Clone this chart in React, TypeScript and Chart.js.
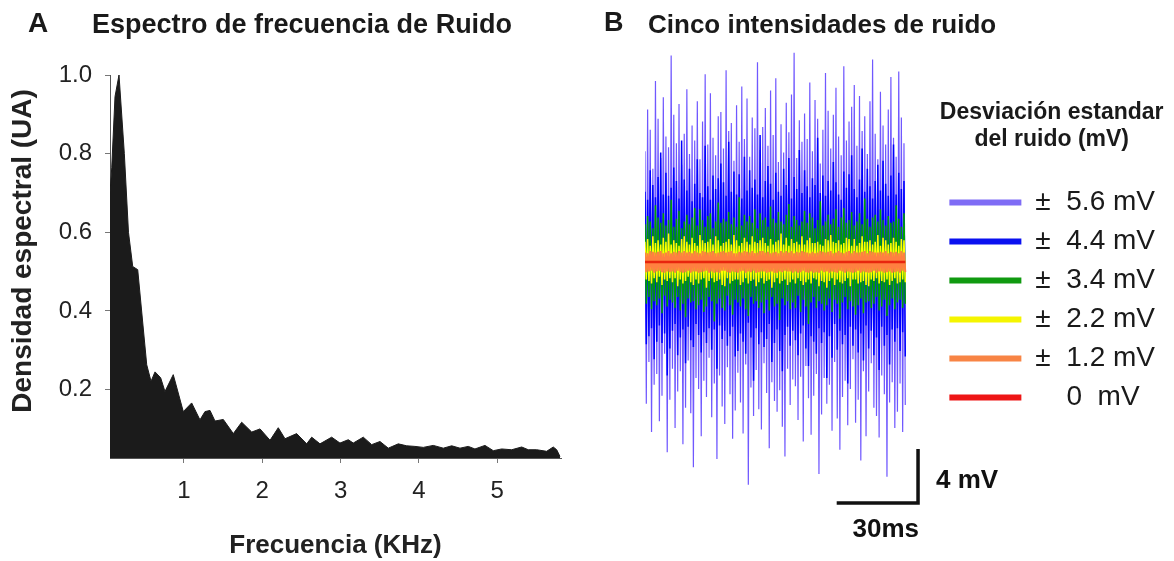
import React, { useEffect, useRef } from "react";
import { Chart, registerables } from "chart.js";

Chart.register(...registerables);

const FONT = "'Liberation Sans', Arial, Helvetica, sans-serif";

// ---------- Panel A: noise frequency spectrum ----------
const spectrumFreqKHz = [
  0.055, 0.077, 0.119, 0.17, 0.238, 0.291, 0.345, 0.409, 0.524, 0.579,
  0.63, 0.702, 0.757, 0.863, 0.991, 1.098, 1.204, 1.268, 1.332, 1.396,
  1.502, 1.63, 1.737, 1.865, 1.971, 2.099, 2.204, 2.29, 2.439, 2.567,
  2.631, 2.737, 2.886, 2.992, 3.098, 3.162, 3.29, 3.397, 3.503, 3.609,
  3.737, 3.844, 3.95, 4.056, 4.184, 4.312, 4.419, 4.525, 4.631, 4.716,
  4.844, 4.95, 5.057, 5.185, 5.313, 5.397, 5.504, 5.632, 5.716, 5.76,
  5.802,
];
const spectrumDensity = [
  0.70, 0.764, 0.945, 1.0, 0.80, 0.60, 0.513, 0.505, 0.263, 0.221,
  0.245, 0.23, 0.195, 0.238, 0.144, 0.166, 0.123, 0.144, 0.147, 0.12,
  0.124, 0.088, 0.117, 0.092, 0.10, 0.071, 0.103, 0.075, 0.088, 0.062,
  0.079, 0.062, 0.079, 0.064, 0.0725, 0.064, 0.079, 0.06, 0.068, 0.051,
  0.062, 0.057, 0.0555, 0.053, 0.058, 0.051, 0.057, 0.051, 0.0555, 0.049,
  0.058, 0.0446, 0.049, 0.047, 0.054, 0.047, 0.047, 0.043, 0.054, 0.047,
  0.03,
];
const spectrumXTicks = [1, 2, 3, 4, 5];
const spectrumYTicks = [0.2, 0.4, 0.6, 0.8, 1.0];

// ---------- Panel B: five noise intensities (mV) ----------
const SAMPLE_MS = 0.4824;
const noise56 = [
  8.2, -10.5, 11.3, -7.4, 9.8, -12.6, 6.9, -9.1, 13.4, -8.3,
  10.6, -11.8, 7.7, -9.9, 12.2, -6.8, 9.3, -14.1, 8.5, -10.2,
  15.3, -7.9, 10.9, -12.3, 8.8, -9.6, 11.7, -8.1, 7.2, -13.5,
  9.5, -10.8, 12.8, -7.3, 8.0, -11.2, 10.1, -15.2, 9.0, -8.6,
  11.9, -9.4, 7.6, -12.9, 10.4, -8.8, 13.9, -10.0, 8.7, -7.1,
  12.5, -11.5, 9.2, -9.0, 7.9, -14.6, 10.8, -8.4, 11.1, -10.7,
  8.4, -12.0, 14.2, -7.8, 9.7, -9.8, 10.3, -13.1, 7.5, -11.0,
  11.6, -8.2, 8.9, -10.4, 13.0, -12.7, 9.1, -7.6, 12.1, -16.5,
  7.8, -9.3, 10.7, -11.4, 9.9, -8.0, 14.8, -10.9, 8.3, -12.4,
  10.0, -7.5, 11.4, -9.7, 8.6, -13.8, 12.7, -8.9, 9.4, -10.3,
  13.6, -11.1, 7.4, -9.5, 10.2, -12.2, 8.1, -14.4, 11.8, -7.9,
  9.6, -10.6, 12.4, -8.7, 15.5, -9.2, 7.7, -11.7, 10.5, -8.5,
  8.9, -13.3, 11.0, -7.7, 9.1, -10.1, 13.3, -12.8, 8.2, -9.9,
  12.0, -8.3, 10.6, -15.7, 7.3, -11.3, 9.8, -8.6, 14.0, -10.5,
  11.2, -9.1, 8.4, -12.5, 10.9, -7.4, 12.9, -11.6, 9.3, -13.9,
  7.9, -10.0, 14.5, -8.8, 9.0, -12.1, 10.4, -9.4, 11.5, -7.2,
  13.1, -11.9, 8.6, -10.2, 12.3, -14.7, 9.7, -8.1, 10.8, -12.9,
  8.0, -9.6, 11.9, -7.5, 15.0, -10.8, 9.5, -11.4, 7.6, -13.0,
  12.6, -8.4, 10.1, -9.8, 8.7, -15.9, 11.3, -10.4, 13.7, -8.9,
  9.2, -12.3, 7.8, -11.1, 14.1, -9.0, 10.7, -12.6, 8.8, -10.6,
];
const noise44 = [
  5.2, -6.1, 4.6, -5.5, 6.8, -4.9, 5.7, -7.2, 4.8, -5.9,
  6.3, -4.7, 8.1, -6.0, 5.0, -5.3, 6.6, -8.4, 4.9, -6.4,
  5.5, -5.1, 7.0, -4.6, 6.0, -6.9, 4.7, -5.6, 9.0, -5.0,
  6.1, -7.5, 5.3, -4.8, 6.9, -5.8, 4.5, -6.3, 5.8, -4.6,
  7.6, -5.4, 5.1, -6.7, 4.8, -5.2, 8.6, -6.0, 5.6, -4.9,
  4.6, -6.5, 6.4, -5.0, 5.4, -7.9, 6.2, -4.7, 7.3, -5.7,
  5.9, -5.1, 4.9, -6.2, 8.9, -5.5, 5.2, -4.8, 6.7, -7.0,
  5.0, -6.6, 6.5, -5.3, 4.7, -5.9, 7.8, -6.8, 5.3, -4.5,
  6.8, -5.6, 5.5, -8.8, 6.1, -4.9, 5.0, -6.1, 9.4, -5.2,
  4.8, -6.3, 6.0, -5.7, 7.1, -4.6, 5.8, -7.4, 4.6, -6.0,
  6.6, -5.0, 5.2, -6.6, 4.9, -8.1, 6.9, -5.4, 5.7, -4.8,
  7.7, -6.2, 4.7, -5.1, 6.3, -5.8, 5.4, -6.9, 8.3, -5.3,
  5.1, -4.7, 6.8, -6.4, 5.6, -7.7, 4.8, -5.5, 6.2, -5.9,
  5.7, -6.8, 9.2, -4.9, 5.1, -6.0, 6.4, -5.2, 4.9, -8.6,
  6.0, -5.5, 5.3, -7.1, 7.4, -4.6, 5.9, -6.5, 5.0, -5.1,
  4.6, -6.1, 6.7, -5.4, 5.5, -9.0, 6.5, -4.8, 7.9, -6.2,
  5.4, -5.0, 4.8, -6.7, 6.1, -5.3, 8.4, -7.3, 5.2, -4.7,
  6.9, -6.4, 5.6, -5.1, 4.7, -6.9, 6.0, -5.6, 7.2, -8.0,
  5.3, -4.8, 7.5, -6.2, 5.8, -5.4, 4.9, -7.6, 6.4, -5.0,
  8.7, -5.9, 5.0, -4.9, 6.6, -6.6, 5.4, -5.2, 6.0, -7.0,
];
const noise34 = [
  2.8, -3.1, 3.4, -2.6, 3.0, -3.5, 2.5, -2.9, 4.2, -3.2,
  3.3, -2.7, 2.9, -3.8, 3.6, -2.5, 2.7, -3.3, 3.1, -2.8,
  4.6, -3.0, 2.6, -3.4, 3.2, -2.6, 3.8, -3.6, 2.5, -3.1,
  3.0, -4.1, 3.5, -2.7, 2.8, -3.0, 3.3, -2.9, 4.0, -3.5,
  2.7, -3.2, 3.9, -2.8, 3.1, -3.7, 2.6, -3.3, 3.4, -2.6,
  3.6, -2.9, 2.5, -4.4, 3.0, -3.1, 4.4, -2.7, 2.9, -3.4,
  3.2, -3.6, 3.0, -2.5, 3.7, -3.2, 2.8, -3.9, 3.3, -2.8,
  2.6, -3.0, 4.8, -3.3, 2.7, -2.7, 3.5, -3.5, 3.0, -4.0,
  3.4, -2.6, 2.9, -3.1, 3.9, -2.9, 2.5, -3.4, 3.6, -3.0,
  3.1, -3.8, 3.3, -2.8, 2.6, -3.6, 4.1, -2.6, 3.2, -3.3,
  2.9, -3.1, 3.7, -4.3, 3.0, -2.7, 2.8, -3.2, 3.5, -2.9,
  4.3, -3.5, 2.6, -3.0, 3.4, -3.4, 3.1, -2.5, 2.7, -3.7,
  3.0, -2.8, 3.8, -3.3, 2.9, -4.6, 3.6, -3.0, 3.3, -2.6,
  2.5, -3.4, 3.1, -2.9, 4.5, -3.1, 2.7, -3.6, 3.0, -3.2,
  3.5, -2.7, 2.8, -3.7, 3.2, -2.8, 3.9, -3.1, 2.6, -4.2,
  3.3, -3.0, 4.0, -2.6, 2.9, -3.5, 3.1, -2.9, 3.7, -3.3,
  2.7, -3.9, 3.0, -3.2, 3.6, -2.7, 2.8, -3.8, 4.7, -3.0,
  3.2, -2.9, 2.6, -3.4, 3.3, -3.1, 3.5, -2.6, 3.0, -3.6,
  3.9, -3.3, 3.1, -2.8, 2.7, -4.0, 3.4, -3.2, 2.9, -2.7,
  3.0, -3.5, 4.2, -3.0, 3.2, -2.8, 2.6, -3.4, 3.6, -3.1,
];
const noise22 = [
  1.5, -1.3, 1.7, -1.4, 1.2, -1.6, 1.9, -1.2, 1.4, -1.5,
  1.6, -1.1, 1.3, -1.7, 1.8, -1.3, 1.5, -1.4, 2.1, -1.2,
  1.3, -1.5, 1.6, -1.2, 1.4, -1.8, 1.2, -1.3, 1.7, -1.6,
  1.9, -1.4, 1.5, -1.1, 1.3, -1.5, 1.8, -1.7, 1.4, -1.3,
  1.2, -1.6, 2.0, -1.3, 1.6, -1.2, 1.4, -1.9, 1.5, -1.4,
  1.7, -1.2, 1.3, -1.5, 1.9, -1.4, 1.6, -1.3, 1.2, -1.7,
  1.4, -1.8, 1.5, -1.2, 1.7, -1.6, 1.3, -1.4, 2.0, -1.3,
  1.6, -1.3, 1.2, -1.7, 1.4, -1.5, 1.8, -1.2, 1.5, -1.6,
  1.3, -1.4, 1.9, -1.3, 1.5, -1.8, 1.4, -1.5, 1.6, -1.2,
  1.8, -1.6, 1.4, -1.4, 1.2, -1.3, 1.7, -1.9, 1.3, -1.5,
  1.5, -1.2, 1.6, -1.6, 2.1, -1.4, 1.3, -1.3, 1.8, -1.7,
  1.2, -1.5, 1.7, -1.3, 1.4, -1.6, 1.5, -1.2, 1.3, -1.4,
  1.9, -1.7, 1.3, -1.5, 1.6, -1.3, 1.8, -1.6, 1.4, -1.2,
  1.4, -1.3, 1.5, -1.8, 1.3, -1.4, 1.2, -1.5, 1.7, -1.9,
  1.6, -1.4, 2.0, -1.2, 1.5, -1.7, 1.4, -1.3, 1.6, -1.5,
  1.3, -1.6, 1.4, -1.4, 1.8, -1.2, 1.7, -1.8, 1.2, -1.3,
  1.7, -1.3, 1.2, -1.6, 1.4, -1.5, 1.9, -1.4, 1.5, -1.7,
  1.5, -1.8, 1.6, -1.3, 1.3, -1.4, 1.5, -1.2, 2.0, -1.6,
  1.2, -1.4, 1.8, -1.5, 1.6, -1.3, 1.3, -1.7, 1.4, -1.4,
  1.8, -1.2, 1.5, -1.6, 1.2, -1.5, 1.7, -1.3, 1.6, -1.5,
];
const noise12 = [
  0.7, -0.75, 0.65, -0.7, 0.8, -0.65, 0.75, -0.8, 0.7, -0.7,
  0.75, -0.65, 0.8, -0.75, 0.65, -0.8, 0.7, -0.7, 0.8, -0.75,
  0.65, -0.7, 0.75, -0.8, 0.7, -0.65, 0.8, -0.75, 0.7, -0.8,
  0.8, -0.75, 0.7, -0.65, 0.75, -0.8, 0.65, -0.7, 0.8, -0.7,
  0.7, -0.8, 0.65, -0.75, 0.8, -0.7, 0.75, -0.65, 0.7, -0.8,
  0.75, -0.7, 0.8, -0.8, 0.65, -0.75, 0.7, -0.8, 0.75, -0.65,
  0.8, -0.65, 0.7, -0.75, 0.75, -0.8, 0.8, -0.7, 0.65, -0.75,
  0.65, -0.8, 0.75, -0.7, 0.7, -0.65, 0.8, -0.8, 0.75, -0.7,
  0.7, -0.75, 0.8, -0.65, 0.65, -0.8, 0.7, -0.75, 0.8, -0.7,
  0.8, -0.7, 0.7, -0.8, 0.75, -0.75, 0.65, -0.7, 0.7, -0.8,
  0.75, -0.8, 0.65, -0.7, 0.8, -0.75, 0.7, -0.65, 0.8, -0.7,
  0.7, -0.7, 0.8, -0.8, 0.65, -0.7, 0.75, -0.8, 0.7, -0.75,
  0.8, -0.65, 0.75, -0.75, 0.7, -0.8, 0.65, -0.7, 0.75, -0.8,
  0.65, -0.75, 0.7, -0.8, 0.8, -0.65, 0.75, -0.75, 0.7, -0.7,
  0.75, -0.8, 0.8, -0.7, 0.65, -0.75, 0.7, -0.8, 0.8, -0.65,
  0.7, -0.7, 0.65, -0.8, 0.75, -0.7, 0.8, -0.75, 0.65, -0.8,
  0.8, -0.75, 0.7, -0.65, 0.7, -0.8, 0.75, -0.7, 0.8, -0.75,
  0.65, -0.8, 0.8, -0.75, 0.75, -0.65, 0.7, -0.8, 0.7, -0.7,
  0.75, -0.7, 0.7, -0.8, 0.8, -0.75, 0.65, -0.7, 0.75, -0.8,
  0.7, -0.75, 0.75, -0.7, 0.65, -0.8, 0.8, -0.65, 0.7, -0.75,
];
const noise0 = [0, 0];

const noiseLegendLabels = [
  "±  5.6 mV",
  "±  4.4 mV",
  "±  3.4 mV",
  "±  2.2 mV",
  "±  1.2 mV",
  "    0  mV",
];
const noiseLegendTitle = ["Desviación estandar", "del ruido (mV)"];

// scale bar (mV / ms)
const SCALE_BAR_MV = 4;
const SCALE_BAR_MS = 30;
const SCALE_BAR_END_MS = 100.7;
const SCALE_BAR_BASE_MV = -17.85;

const toTrace = (arr: number[]) =>
  arr.map((v, i) => ({ x: i * SAMPLE_MS, y: v }));

const scaleBarPlugin = {
  id: "scaleBar",
  afterDatasetsDraw(chart: any) {
    const xs = chart.scales.x;
    const ys = chart.scales.y;
    const ctx = chart.ctx;
    const xEnd = xs.getPixelForValue(SCALE_BAR_END_MS);
    const xStart = xs.getPixelForValue(SCALE_BAR_END_MS - SCALE_BAR_MS);
    const yBase = ys.getPixelForValue(SCALE_BAR_BASE_MV);
    const yTop = ys.getPixelForValue(SCALE_BAR_BASE_MV + SCALE_BAR_MV);
    ctx.save();
    ctx.strokeStyle = "#111";
    ctx.lineWidth = 3.5;
    ctx.lineJoin = "miter";
    ctx.beginPath();
    ctx.moveTo(xStart, yBase);
    ctx.lineTo(xEnd, yBase);
    ctx.lineTo(xEnd, yTop);
    ctx.stroke();
    ctx.fillStyle = "#111";
    ctx.font = `bold 26px ${FONT}`;
    ctx.textBaseline = "middle";
    ctx.textAlign = "left";
    ctx.fillText(`${SCALE_BAR_MV} mV`, xEnd + 18, (yBase + yTop) / 2 + 5);
    ctx.textAlign = "right";
    ctx.fillText(`${SCALE_BAR_MS}ms`, xEnd + 1, yBase + 27);
    ctx.restore();
  },
};

const textStyle = (left: number, top: number, size: number): React.CSSProperties => ({
  position: "absolute",
  left,
  top,
  fontFamily: FONT,
  fontWeight: "bold",
  fontSize: size,
  lineHeight: `${size}px`,
  color: "#1a1a1a",
  whiteSpace: "nowrap",
});

export default function App() {
  const refA = useRef<HTMLCanvasElement>(null);
  const refB = useRef<HTMLCanvasElement>(null);

  useEffect(() => {
    Chart.defaults.font.family = FONT;

    const chartA = new Chart(refA.current as HTMLCanvasElement, {
      type: "line",
      data: {
        datasets: [
          {
            data: spectrumFreqKHz.map((f, i) => ({ x: f, y: spectrumDensity[i] })),
            fill: "start",
            backgroundColor: "#1b1b1b",
            borderColor: "#1b1b1b",
            borderWidth: 1,
            pointRadius: 0,
            tension: 0,
          },
        ],
      },
      options: {
        responsive: false,
        animation: false,
        layout: { padding: { left: 0, top: 75, right: 29, bottom: 0 } },
        plugins: {
          legend: { display: false },
          tooltip: { enabled: false },
          title: { display: false },
        },
        scales: {
          x: {
            type: "linear",
            min: 0.055,
            max: 5.815,
            afterBuildTicks: (s: any) => {
              s.ticks = spectrumXTicks.map((v) => ({ value: v }));
            },
            afterFit: (s: any) => {
              s.height = 103;
            },
            grid: { drawOnChartArea: false, tickLength: 5, color: "#777" },
            border: { color: "#555" },
            ticks: {
              font: { size: 24 },
              color: "#222",
              padding: 14,
              callback: (v: any) => String(v),
            },
            title: {
              display: true,
              text: "Frecuencia (KHz)",
              font: { size: 26, weight: "bold" },
              color: "#222",
              padding: { top: 0, bottom: 0 },
            },
          },
          y: {
            type: "linear",
            min: 0.026,
            max: 1.0,
            afterBuildTicks: (s: any) => {
              s.ticks = spectrumYTicks.map((v) => ({ value: v }));
            },
            afterFit: (s: any) => {
              s.width = 110;
            },
            grid: { drawOnChartArea: false, tickLength: 5, color: "#777" },
            border: { color: "#555" },
            ticks: {
              font: { size: 24 },
              color: "#222",
              padding: 13,
              callback: (v: any) => Number(v).toFixed(1),
            },
            title: {
              display: true,
              text: "    Densidad espectral (UA)",
              font: { size: 28, weight: "bold" },
              color: "#222",
              padding: { top: 6, bottom: 0 },
            },
          },
        },
      },
    } as any);

    const lastMs = (noise56.length - 1) * SAMPLE_MS;
    const series = [
      { data: toTrace(noise56), color: "#7058ff", width: 1.2, order: 5 },
      { data: toTrace(noise44), color: "#0000ff", width: 1.5, order: 4 },
      { data: toTrace(noise34), color: "#00a000", width: 1.5, order: 3 },
      { data: toTrace(noise22), color: "#ffff00", width: 1.5, order: 2 },
      { data: toTrace(noise12), color: "#ff8040", width: 2, order: 1 },
      {
        data: noise0.map((v, i) => ({ x: i === 0 ? 0 : lastMs, y: v })),
        color: "#e8260e",
        width: 2.5,
        order: 0,
      },
    ];
    const legendColors = ["#7f6cf5", "#0a10f0", "#109a10", "#f5f500", "#f88444", "#ee1515"];

    const chartB = new Chart(refB.current as HTMLCanvasElement, {
      type: "line",
      data: {
        datasets: series.map((s, i) => ({
          label: noiseLegendLabels[i],
          data: s.data,
          borderColor: s.color,
          backgroundColor: s.color,
          borderWidth: s.width,
          pointRadius: 0,
          tension: 0,
          fill: false,
          order: s.order,
        })),
      },
      options: {
        responsive: false,
        animation: false,
        layout: { padding: { left: 55, top: 40, right: 9, bottom: 41 } },
        scales: {
          x: { type: "linear", min: 0, max: 108.2, display: false },
          y: { type: "linear", min: -19.11, max: 16.44, display: false },
        },
        plugins: {
          tooltip: { enabled: false },
          title: { display: false },
          legend: {
            display: true,
            position: "right",
            align: "start",
            title: {
              display: true,
              text: noiseLegendTitle,
              color: "#1a1a1a",
              font: { size: 23, weight: "bold" },
              padding: { top: 61, bottom: 49 },
            },
            labels: {
              boxWidth: 72,
              boxHeight: 6,
              padding: 11,
              color: "#1a1a1a",
              font: { size: 28 },
              generateLabels: (chart: any) =>
                chart.data.datasets.map((d: any, i: number) => ({
                  text: d.label,
                  fillStyle: legendColors[i],
                  strokeStyle: legendColors[i],
                  lineWidth: 0,
                  hidden: false,
                  datasetIndex: i,
                })),
            },
          },
        },
      },
      plugins: [scaleBarPlugin],
    } as any);

    return () => {
      chartA.destroy();
      chartB.destroy();
    };
  }, []);

  return (
    <div
      style={{
        position: "fixed",
        left: 0,
        top: 0,
        width: 1174,
        height: 561,
        background: "#fff",
        overflow: "hidden",
      }}
    >
      <canvas
        ref={refA}
        width={590}
        height={561}
        style={{ position: "absolute", left: 0, top: 0 }}
      />
      <canvas
        ref={refB}
        width={584}
        height={561}
        style={{ position: "absolute", left: 590, top: 0 }}
      />
      <div style={textStyle(28, 9, 28)}>A</div>
      <div style={textStyle(92, 11, 27)}>Espectro de frecuencia de Ruido</div>
      <div style={textStyle(604, 9, 27)}>B</div>
      <div style={textStyle(648, 11, 26)}>Cinco intensidades de ruido</div>
    </div>
  );
}
